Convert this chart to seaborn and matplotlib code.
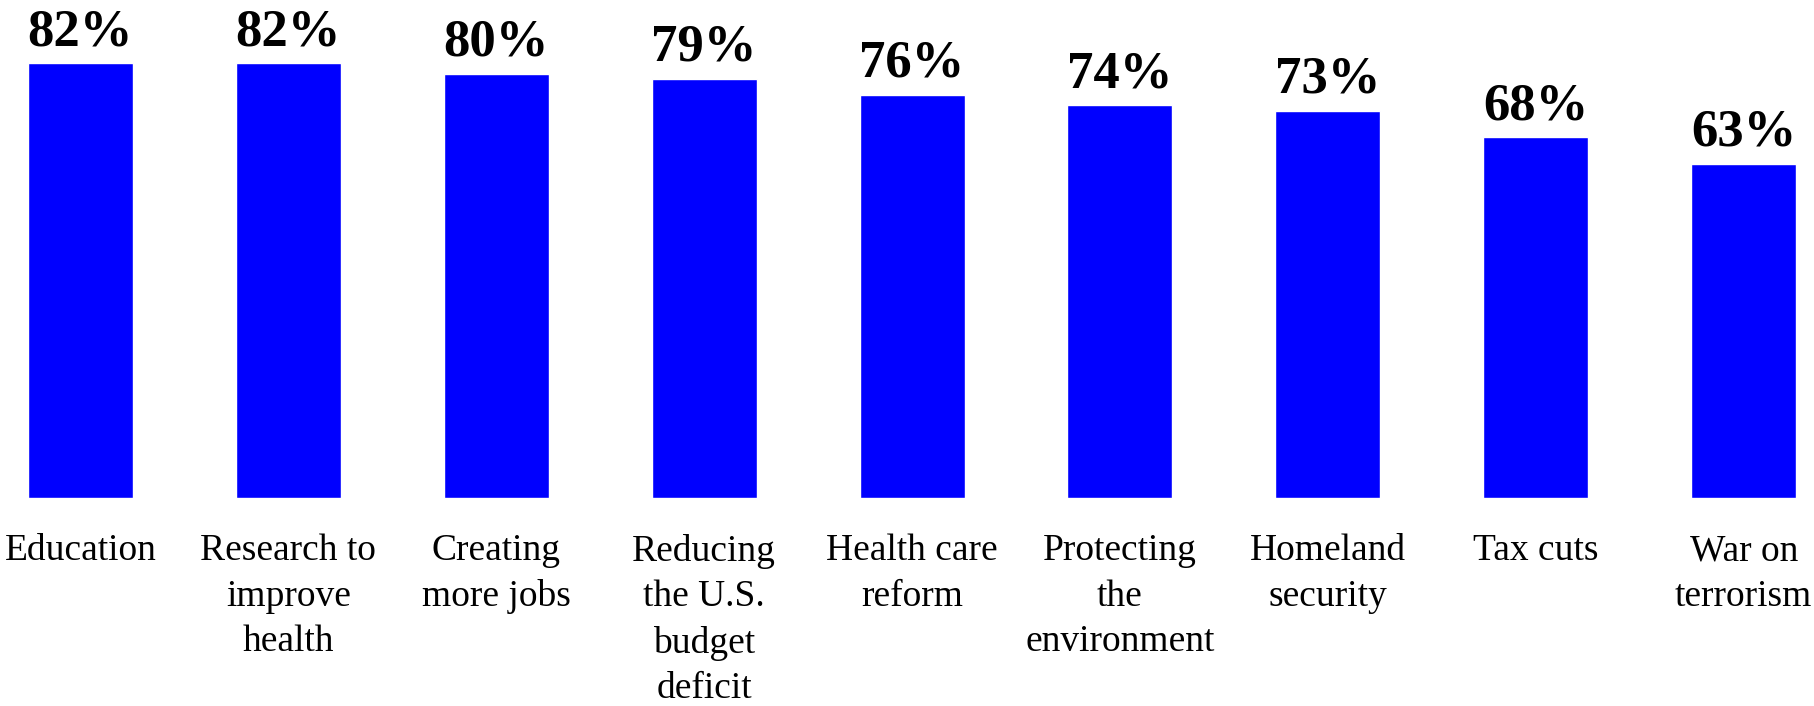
import pandas as pd
import seaborn as sns
import matplotlib.pyplot as plt

# 数据
categories = ['Education', 'Research to\nimprove\nhealth', 'Creating\nmore jobs',
              'Reducing\nthe U.S.\nbudget\ndeficit', 'Health care\nreform',
              'Protecting\nthe\nenvironment', 'Homeland\nsecurity', 'Tax cuts',
              'War on\nterrorism']
values = [82, 82, 80, 79, 76, 74, 73, 68, 63]

df = pd.DataFrame({'issue': categories, 'pct': values})

sns.set_theme(style="white")
plt.rcParams['font.family'] = ['Liberation Serif', 'DejaVu Serif']

fig = plt.figure(figsize=(18.14, 7.06), dpi=100)
ax = fig.add_axes([0, 0.2953, 1, 0.7047])

sns.barplot(data=df, x='issue', y='pct', color='#0000FF', width=0.505,
            saturation=1, ax=ax)

# 数值标签
for i, v in enumerate(values):
    ax.text(i, v + 3.4, f'{v}%', ha='center', va='baseline',
            fontsize=38, fontweight='bold', color='black')

ax.set_xlim(-0.3867, 8.338)
ax.set_ylim(0, 93.9)
ax.set_xlabel('')
ax.set_ylabel('')
ax.set_yticks([])
ax.tick_params(axis='x', length=0, pad=26)
plt.setp(ax.get_xticklabels(), fontsize=27, linespacing=1.42, va='top',
         color='black')
sns.despine(ax=ax, left=True, bottom=True)

fig.savefig('out.png', dpi=100)
